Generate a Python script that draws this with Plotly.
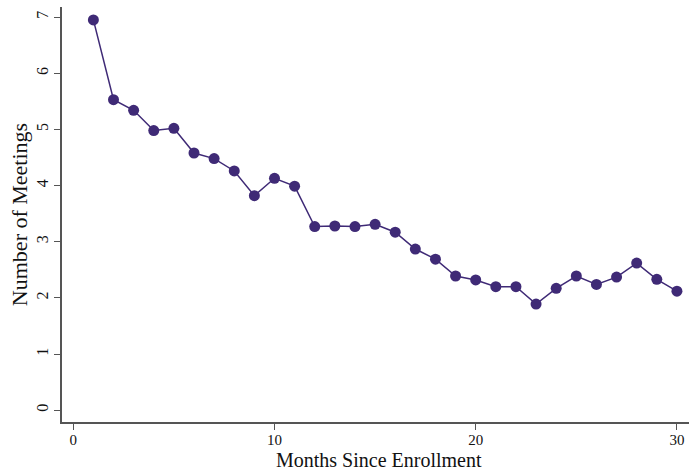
import plotly.graph_objects as go

months = list(range(1, 31))
meetings = [6.95, 5.53, 5.34, 4.98, 5.02, 4.58, 4.48, 4.26, 3.82, 4.13,
            3.99, 3.27, 3.28, 3.27, 3.31, 3.17, 2.87, 2.69, 2.39, 2.32,
            2.20, 2.20, 1.89, 2.17, 2.39, 2.24, 2.37, 2.62, 2.33, 2.12]
x_ticks = [0, 10, 20, 30]
y_ticks = [0, 1, 2, 3, 4, 5, 6, 7]

color = "#3f2a76"
fig = go.Figure(go.Scatter(
    x=months, y=meetings, mode="lines+markers",
    line=dict(color=color, width=1.5),
    marker=dict(color=color, size=11),
))

font = "Liberation Serif"
plot_h = 473 - 7 - 51
fig.update_layout(
    width=689, height=473,
    margin=dict(l=62, r=0, t=7, b=51),
    plot_bgcolor="white", paper_bgcolor="white",
    showlegend=False,
    font=dict(family=font, color="#111"),
    annotations=[dict(
        text="Months Since Enrollment", xref="paper", yref="paper",
        x=0.505, y=-(447 - 422) / plot_h, xanchor="center", yanchor="top",
        showarrow=False, font=dict(size=20, family=font, color="#111"),
    )],
)
fig.update_xaxes(
    range=[-0.56, 30.6], tickvals=x_ticks, showgrid=False, zeroline=False,
    showline=True, linecolor="#555", linewidth=1.5,
    ticks="outside", ticklen=6, tickcolor="#555", ticklabelstandoff=-3,
    tickfont=dict(size=15, family=font),
)
fig.update_yaxes(
    range=[-0.21, 7.18], tickvals=y_ticks, showgrid=False, zeroline=False,
    showline=True, linecolor="#555", linewidth=1.5,
    ticks="outside", ticklen=6, tickcolor="#555", tickangle=-90,
    tickfont=dict(size=16, family=font),
    title=dict(text="Number of Meetings", font=dict(size=22, family=font), standoff=0),
)
fig.write_html("out.html", config={"displayModeBar": False},
               post_script="document.body.style.margin='0';document.body.style.overflow='hidden';")
